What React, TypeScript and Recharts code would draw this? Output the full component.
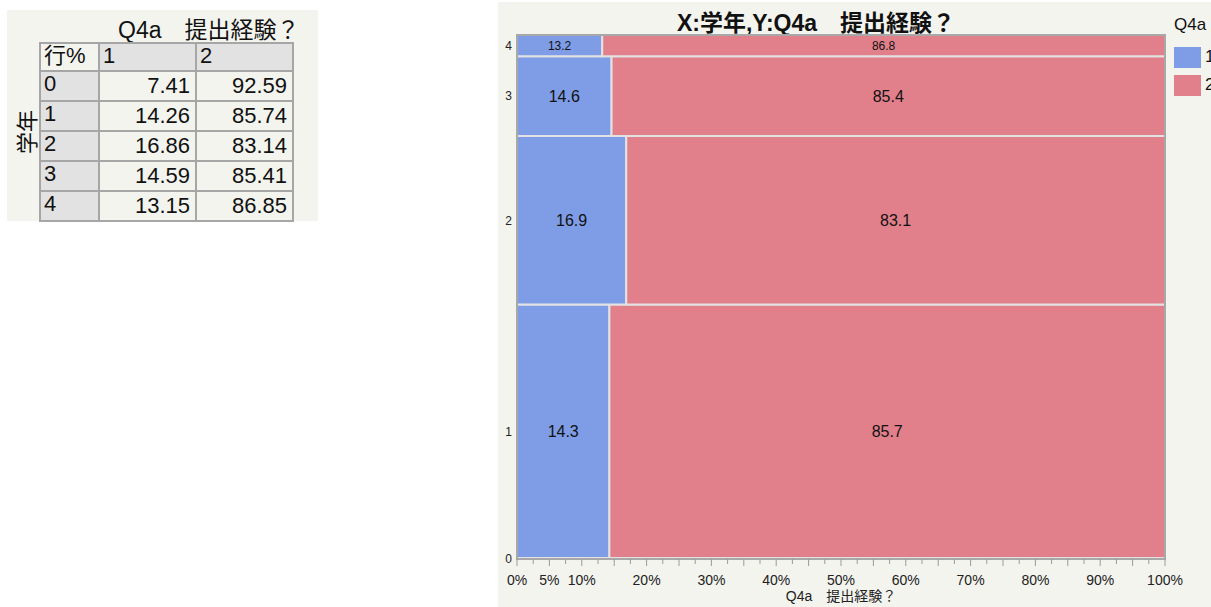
import React from "react";
import {
  ComposedChart,
  XAxis,
  YAxis,
  ReferenceArea,
  Scatter,
} from "recharts";

// 学年 rows, bottom to top
const grades = ["0", "1", "2", "3", "4"];
// relative row size (row height in the mosaic)
const rowSize = [1, 251, 167, 79, 21];
// 行% for Q4a = 1 and Q4a = 2
const pctYes = [7.41, 14.26, 16.86, 14.59, 13.15];
const pctNo = [92.59, 85.74, 83.14, 85.41, 86.85];

const q4aLevels = ["1", "2"];
const levelColors = ["#7e9de6", "#e1808b"];

const xTicks = [
  0, 2.5, 5, 7.5, 10, 12.5, 15, 17.5, 20, 22.5, 25, 27.5, 30, 32.5, 35, 37.5,
  40, 42.5, 45, 47.5, 50, 52.5, 55, 57.5, 60, 62.5, 65, 67.5, 70, 72.5, 75,
  77.5, 80, 82.5, 85, 87.5, 90, 92.5, 95, 97.5, 100,
];
const xLabels = [0, 5, 10, 20, 30, 40, 50, 60, 70, 80, 90, 100];

const FONT = '"Liberation Sans", Arial, "Noto Sans CJK JP", sans-serif';
const PANEL = "#f4f4ef";

// cumulative row bounds
const rows = grades.map((g, i) => {
  const y0 = rowSize.slice(0, i).reduce((a, b) => a + b, 0);
  return { grade: g, y0, y1: y0 + rowSize[i], yes: pctYes[i], no: pctNo[i] };
});
const total = rowSize.reduce((a, b) => a + b, 0);
const yTicks = rows.map((r) => (r.y0 + r.y1) / 2);
// split point of each row (keeps the axes fed with data)
const splits = rows.map((r) => ({ x: r.yes, y: (r.y0 + r.y1) / 2 }));

function XTick(props: any) {
  const { x, y, payload } = props;
  const v = payload.value;
  const major = v % 5 === 0;
  const show = xLabels.includes(v);
  return (
    <g>
      <line x1={x} x2={x} y1={y} y2={y + (major ? 7 : 5)} stroke="#9a9a9a" />
      {show && (
        <text x={x} y={y + 26} textAnchor="middle" fontSize={14} fill="#222">
          {v}%
        </text>
      )}
    </g>
  );
}

function Mosaic() {
  return (
    <ComposedChart
      width={713}
      height={605}
      data={splits}
      margin={{ top: 33, right: 46, bottom: 0, left: 0 }}
      style={{ fontFamily: FONT }}
    >
      <XAxis
        type="number"
        dataKey="x"
        domain={[0, 100]}
        ticks={xTicks}
        interval={0}
        tick={<XTick />}
        tickLine={false}
        tickSize={0}
        tickMargin={0}
        axisLine={{ stroke: "#a8a8a8", strokeWidth: 2 }}
        height={48}
        allowDataOverflow
        label={{
          value: "Q4a　提出経験？",
          position: "insideBottom",
          offset: 6,
          fontSize: 14,
          fill: "#222",
        }}
      />
      <YAxis
        type="number"
        dataKey="y"
        domain={[0, total]}
        ticks={yTicks}
        interval={0}
        tickFormatter={(v: number) => grades[yTicks.indexOf(v)]}
        tick={{ fontSize: 12, fill: "#222" }}
        tickLine={false}
        tickSize={0}
        tickMargin={5}
        axisLine={false}
        allowDataOverflow
        width={19}
      />
      <ReferenceArea
        x1={0}
        x2={100}
        y1={0}
        y2={total}
        fill="#ffffff"
        fillOpacity={1}
        stroke="none"
        ifOverflow="visible"
      />
      {rows.map((r) =>
        [r.yes, r.no].map((p, k) => {
          const start = k === 0 ? 0 : r.yes;
          const big = r.y1 - r.y0 > 5;
          return (
            <ReferenceArea
              key={`${r.grade}-${k}`}
              x1={start}
              x2={start + p}
              y1={r.y0}
              y2={r.y1}
              fill={levelColors[k]}
              fillOpacity={1}
              stroke="#e2e2e2"
              strokeWidth={2}
              ifOverflow="visible"
              label={
                big
                  ? {
                      value: p.toFixed(1),
                      position: "center",
                      fontSize: r.y1 - r.y0 < 30 ? 12 : 16,
                      fill: "#111",
                    }
                  : undefined
              }
            />
          );
        })
      )}
      <ReferenceArea
        x1={0}
        x2={100}
        y1={0}
        y2={total}
        fill="none"
        fillOpacity={0}
        stroke="#a8a8a8"
        strokeWidth={2}
        ifOverflow="visible"
      />
      <Scatter
        dataKey="y"
        fill="none"
        stroke="none"
        isAnimationActive={false}
        legendType="none"
      />
    </ComposedChart>
  );
}

function LegendBox() {
  return (
    <div
      style={{
        position: "absolute",
        left: 676,
        top: 12,
        fontFamily: FONT,
        fontSize: 17,
        color: "#111",
        whiteSpace: "nowrap",
      }}
    >
      <div style={{ height: 29, lineHeight: "22px" }}>Q4a</div>
      {q4aLevels.map((lv, i) => (
        <div key={lv} style={{ display: "flex", alignItems: "center", height: 28 }}>
          <div style={{ width: 27, height: 21, background: levelColors[i], marginRight: 4 }} />
          <span>{lv}</span>
        </div>
      ))}
    </div>
  );
}

const cellBase: React.CSSProperties = {
  border: "2px solid #a6a6a6",
  padding: "0 5px",
  height: 26,
  lineHeight: "24px",
  verticalAlign: "top",
  fontSize: 22,
};

function RowPctTable() {
  return (
    <table
      style={{
        position: "absolute",
        left: 39,
        top: 42,
        borderCollapse: "collapse",
        fontFamily: FONT,
        color: "#111",
        tableLayout: "fixed",
        width: 253,
      }}
    >
      <colgroup>
        <col style={{ width: 59 }} />
        <col style={{ width: 97 }} />
        <col style={{ width: 97 }} />
      </colgroup>
      <tbody>
        <tr>
          <td style={{ ...cellBase, background: PANEL, padding: "0 3px" }}>行%</td>
          {q4aLevels.map((lv) => (
            <td key={lv} style={{ ...cellBase, background: "#e2e2e2", padding: "0 3px" }}>
              {lv}
            </td>
          ))}
        </tr>
        {grades.map((g, i) => (
          <tr key={g}>
            <td style={{ ...cellBase, background: "#e2e2e2", padding: "0 3px" }}>{g}</td>
            <td style={{ ...cellBase, background: PANEL, textAlign: "right", paddingTop: 2 }}>
              {pctYes[i].toFixed(2)}
            </td>
            <td style={{ ...cellBase, background: PANEL, textAlign: "right", paddingTop: 2 }}>
              {pctNo[i].toFixed(2)}
            </td>
          </tr>
        ))}
      </tbody>
    </table>
  );
}

export default function App() {
  return (
    <div
      style={{
        position: "absolute",
        left: 0,
        top: 0,
        width: 1211,
        height: 607,
        background: "#ffffff",
        overflow: "hidden",
        fontFamily: FONT,
      }}
    >
      {/* left table panel */}
      <div style={{ position: "absolute", left: 7, top: 10, width: 311, height: 211, background: PANEL }} />
      <div style={{ position: "absolute", left: 118, top: 11, fontSize: 23, color: "#111", whiteSpace: "nowrap" }}>
        Q4a　提出経験？
      </div>
      <div
        style={{
          position: "absolute",
          left: 3,
          top: 116,
          fontSize: 22,
          color: "#111",
          transform: "rotate(-90deg)",
          whiteSpace: "nowrap",
        }}
      >
        学年
      </div>
      <RowPctTable />

      {/* right mosaic panel */}
      <div style={{ position: "absolute", left: 498, top: 2, width: 713, height: 605, background: PANEL }}>
        <div
          style={{
            position: "absolute",
            left: 102,
            top: 2,
            width: 432,
            textAlign: "center",
            fontSize: 23,
            fontWeight: "bold",
            color: "#111",
            whiteSpace: "nowrap",
          }}
        >
          X:学年,Y:Q4a　提出経験？
        </div>
        <Mosaic />
        <LegendBox />
      </div>
    </div>
  );
}
